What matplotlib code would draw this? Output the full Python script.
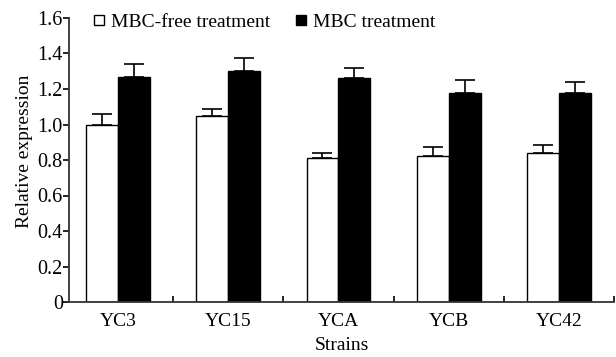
import numpy as np
import matplotlib
matplotlib.use('Agg')
import matplotlib.pyplot as plt
from matplotlib.lines import Line2D
from matplotlib.ticker import FuncFormatter

plt.rcParams['font.family'] = ['Liberation Serif', 'DejaVu Serif']

# Data
strains = ['YC3', 'YC15', 'YCA', 'YCB', 'YC42']
free_mean = [1.00, 1.05, 0.81, 0.82, 0.84]
free_err = [0.06, 0.04, 0.03, 0.055, 0.045]
mbc_mean = [1.27, 1.30, 1.26, 1.18, 1.18]
mbc_err = [0.07, 0.075, 0.06, 0.07, 0.06]

fig = plt.figure(figsize=(6.16, 3.57), dpi=100)
ax = fig.add_axes([69/616, 1 - 302/357, (614 - 69)/616, (302 - 18)/357])

x = np.arange(len(strains))
w = 0.29
ekw = dict(ecolor='black', elinewidth=1.2, capsize=7, capthick=1.2)
ax.bar(x - w/2, free_mean, w, color='white', edgecolor='black', linewidth=1,
       yerr=[np.zeros(len(x)), free_err], error_kw=ekw)
ax.bar(x + w/2, mbc_mean, w, color='black', edgecolor='black', linewidth=1,
       yerr=[np.zeros(len(x)), mbc_err], error_kw=ekw)

ax.set_xlim(-0.445, len(strains) - 0.5)
ax.set_ylim(0, 1.6)
ax.set_yticks(np.arange(0, 1.61, 0.2))
ax.yaxis.set_major_formatter(FuncFormatter(lambda v, p: '0' if abs(v) < 1e-9 else f'{v:.1f}'))

# group boundaries as inward ticks, labels at centres
ax.set_xticks(x + 0.5)
ax.set_xticklabels([])
ax.tick_params(axis='x', which='major', direction='in', length=4, width=1.2)
ax.set_xticks(x, minor=True)
ax.set_xticklabels(strains, minor=True)
ax.tick_params(axis='x', which='minor', length=0, pad=8, labelsize=14)
ax.tick_params(axis='y', direction='out', length=4, width=1.2, labelsize=14.5, pad=0.5)

for s in ['top', 'right']:
    ax.spines[s].set_visible(False)
for s in ['left', 'bottom']:
    ax.spines[s].set_linewidth(1.3)
    ax.spines[s].set_color('#333333')

ax.set_ylabel('Relative expression', fontsize=14, va='center')
ax.yaxis.set_label_coords(-0.081, 0.53)
ax.set_xlabel('Strains', fontsize=14, labelpad=5)

handles = [Line2D([], [], marker='s', color='none', markerfacecolor='white', markeredgecolor='black', markersize=7),
           Line2D([], [], marker='s', color='none', markerfacecolor='black', markeredgecolor='black', markersize=7)]
ax.legend(handles, ['MBC-free treatment', 'MBC treatment'], ncol=2, frameon=False,
          loc='upper left', bbox_to_anchor=(0.03, 1.045), fontsize=14,
          handlelength=0.6, handletextpad=0.3, columnspacing=1.3, borderaxespad=0)

fig.savefig('out.png', dpi=100)
